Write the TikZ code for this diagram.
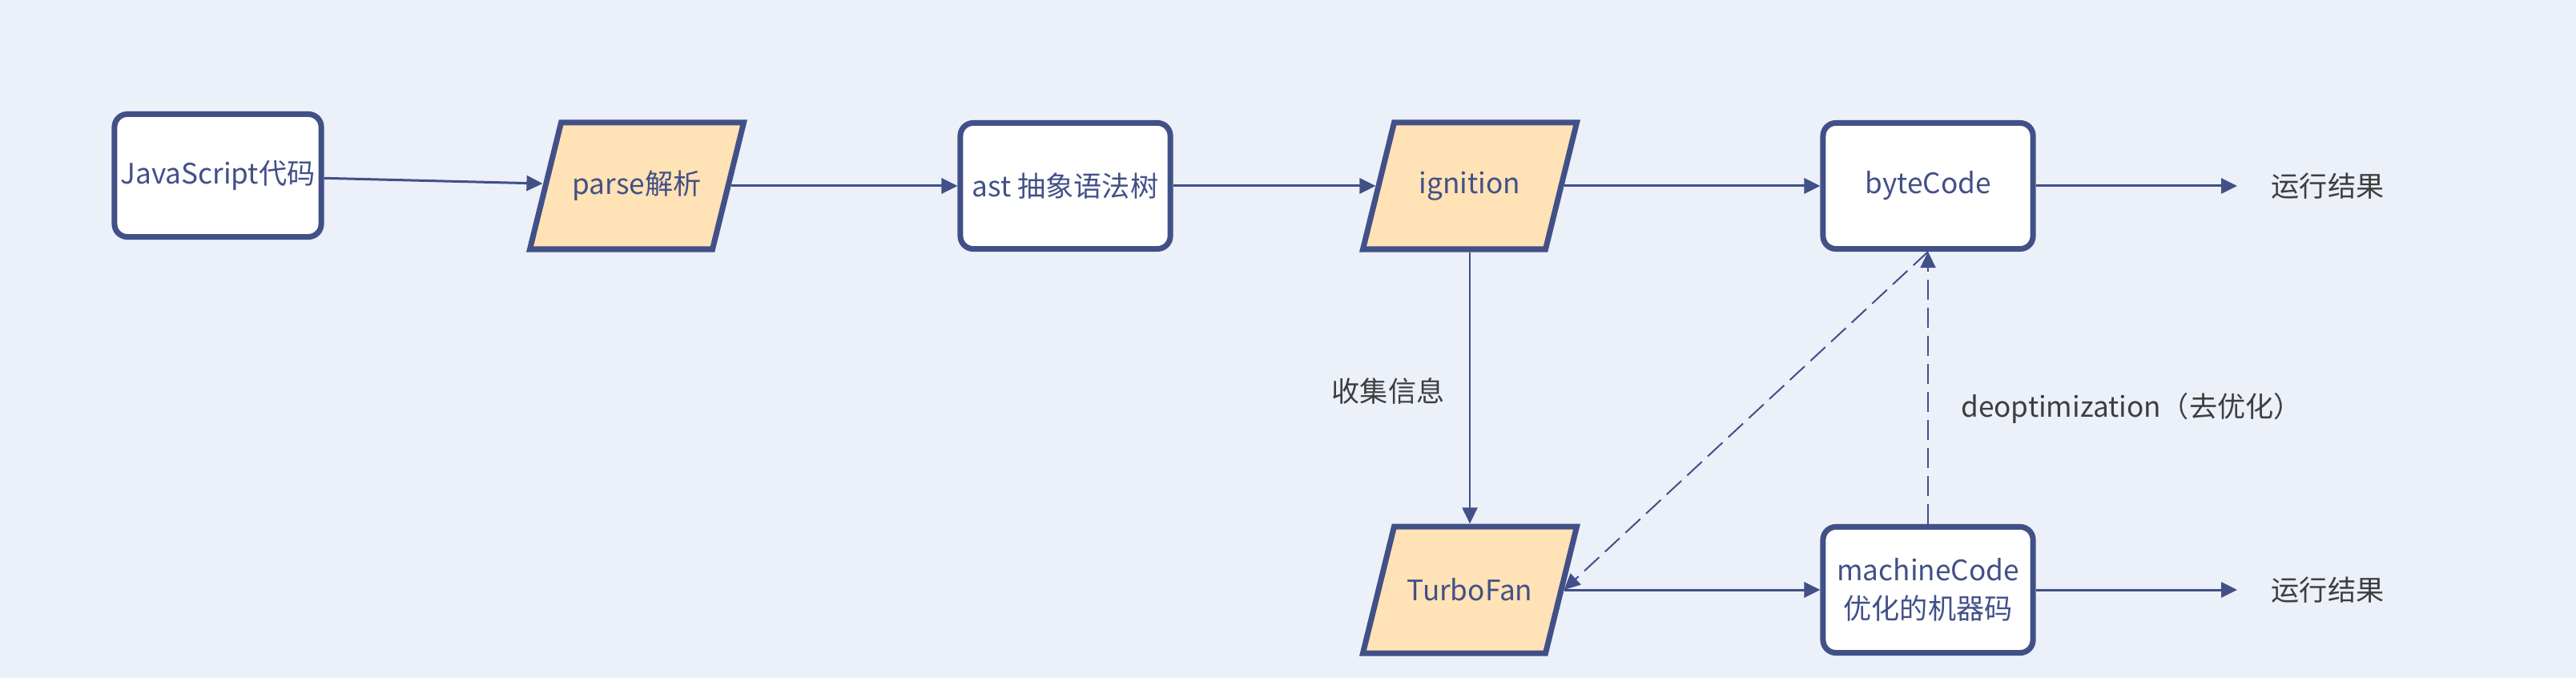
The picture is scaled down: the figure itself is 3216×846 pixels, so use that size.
\documentclass[tikz,border=0pt]{standalone}
\usepackage{fontspec}
\setmainfont{Noto Sans CJK SC}
\usetikzlibrary{arrows.meta}
\definecolor{bg}{RGB}{235,240,249}
\definecolor{edge}{RGB}{66,80,136}
\definecolor{peach}{RGB}{255,226,181}
\definecolor{lbl}{RGB}{62,62,62}
\newcommand\parabox[4]{%
  \filldraw[parashape, shift={(#2,#3)}] (-94.5,-79) -- (133.5,-79) -- (94.5,79) -- (-133.5,79) -- cycle;
  \node[parabase] (#1) at (#2,#3) {#4};}
\begin{document}
\begin{tikzpicture}[x=0.01cm,y=-0.01cm,
  txt/.style={font=\fontsize{10}{13.5}\selectfont},
  box/.style={txt, draw=edge, line width=0.07cm, fill=white, rounded corners=0.16cm,
    minimum width=2.62cm, minimum height=1.57cm, text=edge, align=center, inner sep=0pt},
  parashape/.style={draw=edge, fill=peach, line width=0.07cm},
  parabase/.style={txt, minimum width=2.28cm, minimum height=1.58cm, text=edge,
    inner sep=0pt, outer sep=0.035cm},
  lab/.style={txt, text=lbl, inner sep=0pt},
  tip/.style={-{Triangle[length=0.2cm,width=0.19cm]}},
  conn/.style={tip, draw=edge, line width=0.03cm},
  thinconn/.style={tip, draw=edge, line width=0.02cm},
  dashconn/.style={thinconn, dash pattern=on 0.25cm off 0.1cm}
]
\useasboundingbox (0,0) rectangle (3216,846);
\fill[bg] (0,0) rectangle (3216,846);

\node[box, minimum width=2.58cm, minimum height=1.53cm] (js) at (272,219) {JavaScript代码};
\parabox{parse}{795}{232}{parse解析}
\node[box] (ast) at (1330,232) {ast 抽象语法树};
\parabox{ign}{1835}{232}{ignition}
\node[box] (byte) at (2407,232) {byteCode};
\node[lab, anchor=west] (res1) at (2835,232) {运行结果};

\parabox{turbo}{1835}{736}{TurboFan}
\node[box] (mach) at (2407,736) {machineCode\\优化的机器码};
\node[lab, anchor=west] (res2) at (2835,736) {运行结果};

\node[lab] (collect) at (1733,488) {收集信息};
\node[lab] (deopt) at (2661,509) {deoptimization（去优化）};

\draw[conn] (js) -- (parse);
\draw[conn] (parse) -- (ast);
\draw[conn] (ast) -- (ign);
\draw[conn] (ign) -- (byte);
\draw[conn, shorten >=0.42cm] (byte) -- (res1.west);
\draw[thinconn] (ign) -- (turbo);
\draw[conn] (turbo) -- (mach);
\draw[conn, shorten >=0.42cm] (mach) -- (res2.west);
\draw[dashconn] (mach) -- (byte);
\draw[dashconn] (byte.south) -- (turbo.east);
\end{tikzpicture}
\end{document}
